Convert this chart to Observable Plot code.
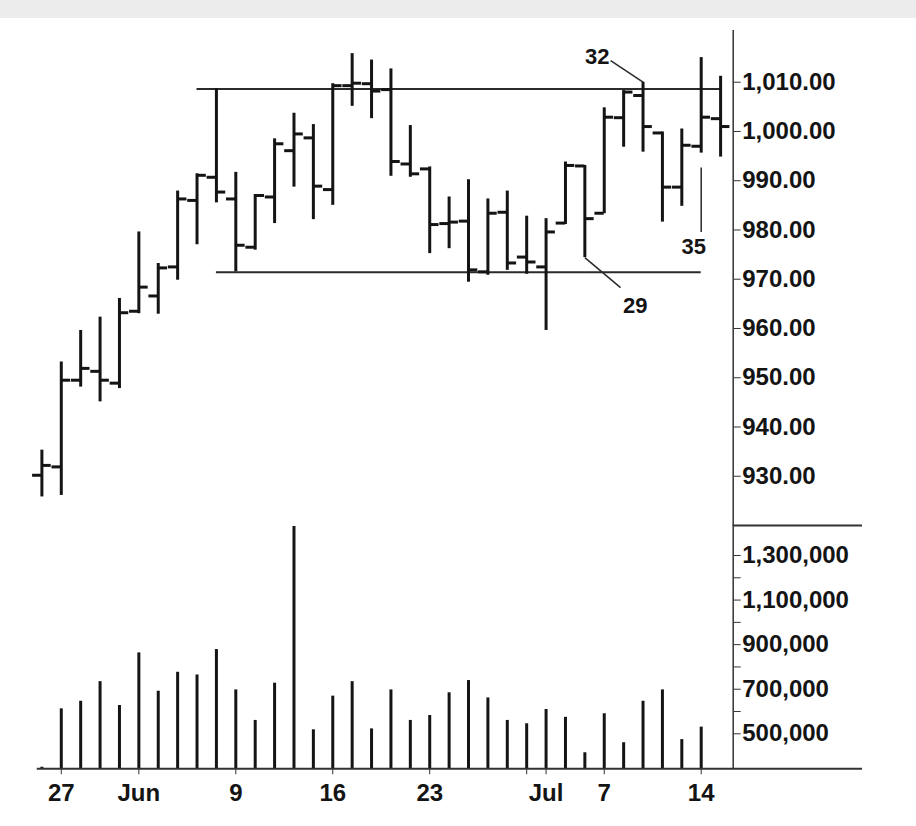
<!DOCTYPE html>
<html>
<head>
<meta charset="utf-8">
<script src="https://cdn.jsdelivr.net/npm/d3@7"></script>
<script src="https://cdn.jsdelivr.net/npm/@observablehq/plot@0.6"></script>
<style>
  html, body { margin: 0; padding: 0; background: #fff; }
  #band { height: 18px; background: #ececec; }
  #price, #volume { display: block; line-height: 0; }
  svg { overflow: visible; display: block; }
  svg text { font-weight: bold; }
</style>
</head>
<body>
<div id="band"></div>
<div id="price"></div>
<div id="volume"></div>
<script>
// ---- Data ----
const days = ["May 23","May 27","May 28","May 29","May 30","Jun 2","Jun 3","Jun 4","Jun 5","Jun 6",
  "Jun 9","Jun 10","Jun 11","Jun 12","Jun 13","Jun 16","Jun 17","Jun 18","Jun 19","Jun 20",
  "Jun 23","Jun 24","Jun 25","Jun 26","Jun 27","Jun 30","Jul 1","Jul 2","Jul 3",
  "Jul 7","Jul 8","Jul 9","Jul 10","Jul 11","Jul 14","Jul 15"];
const open  = [930.2, 931.9, 949.5, 951.3, 948.9, 963.5, 966.6, 972.5, 986.0, 990.7,
  986.3, 976.5, 986.7, 996.1, 998.7, 988.2, 1009.3, 1009.7, 1008.5, 993.4,
  992.4, 981.3, 981.8, 971.5, 983.6, 974.5, 972.5, 981.4, 993.0,
  983.4, 1002.8, 1007.3, 999.7, 988.7, 997.0, 1002.6];
const high  = [935.3, 953.2, 959.6, 962.3, 966.1, 979.6, 973.2, 987.9, 991.4, 1008.7,
  991.7, 987.2, 998.5, 1003.7, 1001.4, 1009.7, 1015.8, 1014.5, 1012.7, 1001.2,
  992.8, 986.7, 990.2, 986.3, 987.9, 982.8, 982.3, 993.8, 993.1,
  1004.8, 1008.3, 1010.0, 999.9, 1000.5, 1015.0, 1011.2];
const low   = [925.8, 926.1, 948.1, 945.1, 947.8, 963.0, 962.9, 969.8, 977.0, 985.5,
  971.5, 975.9, 981.3, 988.7, 982.1, 985.0, 1005.1, 1002.6, 990.9, 990.7,
  975.2, 976.2, 969.4, 970.8, 971.8, 971.0, 959.6, 981.1, 974.4,
  983.3, 996.8, 995.8, 981.6, 984.8, 995.6, 994.8];
const close = [932.2, 949.5, 951.9, 949.5, 963.2, 968.4, 972.3, 986.3, 991.1, 987.7,
  976.9, 987.0, 997.5, 999.5, 988.9, 1009.3, 1009.8, 1008.2, 993.9, 991.4,
  981.1, 981.6, 971.9, 983.4, 973.3, 973.5, 979.6, 993.1, 982.3,
  1002.9, 1008.0, 1001.0, 988.7, 997.2, 1002.9, 1001.0];
const volume = [350000, 612000, 646000, 734000, 627000, 863000, 691000, 776000, 764000, 878000,
  697000, 560000, 727000, 1430000, 518000, 669000, 734000, 522000, 697000, 560000,
  582000, 684000, 739000, 661000, 560000, 545000, 609000, 574000, 415000,
  590000, 460000, 646000, 697000, 474000, 530000, null];

const dateTickBars = [1, 5, 10, 15, 20, 25, 26, 29, 34];
const dateTickLabels = ["27", "Jun", "9", "16", "23", "", "Jul", "7", "14"];
const priceTicks = [930, 940, 950, 960, 970, 980, 990, 1000, 1010];
const volumeTicks = [500000, 700000, 900000, 1100000, 1300000];
const volumeMinorTicks = [600000, 800000, 1000000, 1200000];

// trend lines: level, first bar, last bar
const trendLevels = [1008.6, 971.4];
const trendFrom = [8, 9];
const trendTo = [35, 34];

// annotations (in data units: bar index, price)
const noteText = ["29", "32", "35"];
const noteFromBar = [28, 31, 34];
const noteFromPrice = [974.4, 1010.0, 992.7];
const noteToBar = [29.84, 29.33, 34];
const noteToPrice = [968.3, 1014.4, 979.6];
const noteLabelBar = [30.6, 28.64, 33.62];
const noteLabelPrice = [964.5, 1015.1, 976.6];

// ---- Build tables ----
const bars = days.map((d, i) => ({i, day: d, open: open[i], high: high[i], low: low[i], close: close[i]}));
const vols = days.map((d, i) => ({i, day: d, volume: volume[i]})).filter(d => d.volume != null);
const trends = trendLevels.map((lv, k) => ({level: lv, from: trendFrom[k], to: trendTo[k]}));
const notes = noteText.map((t, k) => ({
  text: t, x1: noteFromBar[k], y1: noteFromPrice[k], x2: noteToBar[k], y2: noteToPrice[k],
  lx: noteLabelBar[k], ly: noteLabelPrice[k]
}));

// ---- Shared layout ----
const W = 916;
const ML = 22, MR = 183.3;
const xDomain = [-1, 35.65];     // right end = axis line
const axisEnd = 42.32;           // horizontal frame lines extend right of axis
const axisStart = -0.24;
const font = "'Liberation Sans', Arial, Helvetica, sans-serif";
const ink = "#141414";
const priceDomain = [920, 1020.5];
const volDomain = [343000, 1434600];

const price = Plot.plot({
  width: W, height: 507,
  marginTop: 12, marginBottom: 0, marginLeft: ML, marginRight: MR,
  x: {domain: xDomain, axis: null, label: null},
  y: {domain: priceDomain, label: null},
  style: {fontFamily: font, color: ink, background: "transparent", overflow: "visible"},
  marks: [
    Plot.ruleY(trends, {y: "level", x1: "from", x2: "to", stroke: "#2a2a2a", strokeWidth: 2}),
    Plot.ruleX(bars, {x: "i", y1: "low", y2: "high", stroke: ink, strokeWidth: 3}),
    Plot.ruleY(bars, {y: "open", x1: d => d.i - 0.48, x2: "i", stroke: ink, strokeWidth: 3}),
    Plot.ruleY(bars, {y: "close", x1: "i", x2: d => d.i + 0.48, stroke: ink, strokeWidth: 3}),
    Plot.link(notes, {x1: "x1", y1: "y1", x2: "x2", y2: "y2", stroke: "#2a2a2a", strokeWidth: 1.5}),
    Plot.text(notes, {x: "lx", y: "ly", text: "text", fontSize: 22, fontWeight: "bold", fill: ink}),
    Plot.ruleX([xDomain[1]], {stroke: "#333", strokeWidth: 1.5}),
    Plot.axisY({anchor: "right", ticks: priceTicks, tickFormat: d3.format(",.2f"),
      tickSize: 7, tickPadding: 2, fontSize: 24, fontWeight: "bold", label: null, stroke: "#333"})
  ]
});

const vol = Plot.plot({
  width: W, height: 301,
  marginTop: 0, marginBottom: 57.7, marginLeft: ML, marginRight: MR,
  x: {domain: xDomain, label: null},
  y: {domain: volDomain, label: null},
  style: {fontFamily: font, color: ink, background: "transparent", overflow: "visible"},
  marks: [
    Plot.ruleX(vols, {x: "i", y1: volDomain[0], y2: "volume", stroke: ink, strokeWidth: 3}),
    Plot.ruleY([volDomain[0]], {x1: axisStart, x2: axisEnd, stroke: "#333", strokeWidth: 2}),
    Plot.ruleY([volDomain[1]], {x1: xDomain[1], x2: axisEnd, stroke: "#333", strokeWidth: 2}),
    Plot.ruleX([xDomain[1]], {stroke: "#333", strokeWidth: 1.5}),
    Plot.axisY({anchor: "right", ticks: volumeTicks, tickFormat: d3.format(","),
      tickSize: 7, tickPadding: 2, fontSize: 24, fontWeight: "bold", label: null, stroke: "#333"}),
    Plot.axisY({anchor: "right", ticks: volumeMinorTicks, tickFormat: () => "",
      tickSize: 7, label: null, stroke: "#333"}),
    Plot.axisX({ticks: dateTickBars, tickFormat: d => dateTickLabels[dateTickBars.indexOf(d)],
      tickSize: 6, tickPadding: 9, fontSize: 24, fontWeight: "bold", label: null, stroke: "#333"})
  ]
});

document.getElementById("price").appendChild(price);
document.getElementById("volume").appendChild(vol);
</script>
</body>
</html>
